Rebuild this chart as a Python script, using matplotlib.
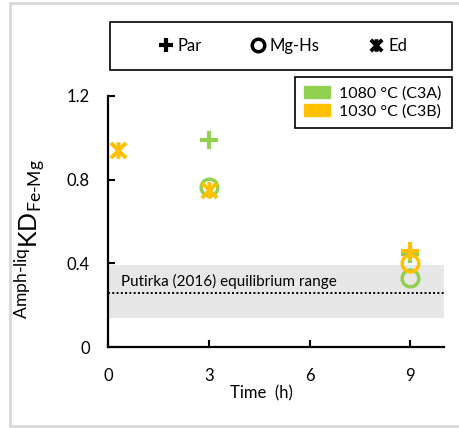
import matplotlib
matplotlib.use("Agg")
import matplotlib.pyplot as plt
from matplotlib.path import Path
from matplotlib.patches import Rectangle, Patch
from matplotlib.lines import Line2D

plt.rcParams['font.family'] = ['Lato', 'DejaVu Sans']
plt.rcParams['mathtext.fontset'] = 'custom'
plt.rcParams['mathtext.rm'] = 'Lato'

# ---- data ----
series_labels = ['1080 °C (C3A)', '1030 °C (C3B)']
colors = ['#92D050', '#FFC000']
par_t = [[3, 9], [9]]
par_kd = [[0.99, 0.445], [0.46]]
mghs_t = [[3, 9], [9]]
mghs_kd = [[0.765, 0.33], [0.40]]
ed_t = [[], [0.3, 3]]
ed_kd = [[], [0.94, 0.75]]
eq_low, eq_high, eq_mid = 0.14, 0.39, 0.26
xticks = [0, 3, 6, 9]
yticks = [0, 0.4, 0.8, 1.2]
ytick_labels = ['0', '0.4', '0.8', '1.2']

star = Path([(-1, -1), (1, 1), (-1, 1), (1, -1), (0, -1.1), (0, 1.1)],
            [Path.MOVETO, Path.LINETO, Path.MOVETO, Path.LINETO, Path.MOVETO, Path.LINETO])

fig = plt.figure(figsize=(4.59, 4.28), dpi=100)
W, H = 459, 428
ax = fig.add_axes([108 / W, 1 - 347 / H, 336 / W, 251 / H])

ax.axhspan(eq_low, eq_high, color='#e7e7e7', zorder=0, lw=0)
ax.axhline(eq_mid, color='black', ls=(0, (1, 1.2)), lw=1.4, zorder=1)
ax.text(0.4, 0.315, 'Putirka (2016) equilibrium range', fontsize=11, va='center', ha='left', zorder=2)

for i in range(2):
    ax.plot(par_t[i], par_kd[i], ls='none', marker='+', ms=13, mew=3,
            color=colors[i], zorder=3 + i)
    ax.plot(mghs_t[i], mghs_kd[i], ls='none', marker='o', ms=12, mew=2.5, mfc='none',
            mec=colors[i], zorder=3 + i)
    if ed_t[i]:
        ax.plot(ed_t[i], ed_kd[i], ls='none', marker=star, ms=12, mew=2.8, mfc='none',
                mec=colors[i], zorder=3 + i)

ax.set_xlim(0, 10)
ax.set_ylim(0, 1.2)
ax.set_xticks(xticks)
ax.set_yticks(yticks)
ax.set_yticklabels(ytick_labels)
ax.tick_params(direction='in', length=5, width=1.5, labelsize=12)
ax.tick_params(axis='x', pad=15)
ax.tick_params(axis='y', pad=13)
for s in ['top', 'right']:
    ax.spines[s].set_visible(False)
for s in ['left', 'bottom']:
    ax.spines[s].set_linewidth(1.6)

ax.set_xlabel('Time  (h)', fontsize=12)
ax.xaxis.set_label_coords(0.458, -0.183)
ax.xaxis.label.set_va('center')
ax.set_ylabel(r'$^{\mathrm{Amph\text{-}liq}}\mathrm{KD}_{\mathrm{Fe\text{-}Mg}}$', fontsize=18)
ax.yaxis.set_label_coords(-0.232, 0.43)
ax.yaxis.label.set_va('center')

# top legend box
fig.patches.append(Rectangle((110 / W, 1 - 70 / H), 342 / W, 48 / H, transform=fig.transFigure,
                             fill=False, ec='black', lw=1.2))
h1 = [Line2D([], [], ls='none', marker='+', ms=10, mew=3, color='black'),
      Line2D([], [], ls='none', marker='o', ms=9, mew=2.5, mfc='none', mec='black'),
      Line2D([], [], ls='none', marker=star, ms=9, mew=2.8, mfc='none', mec='black')]
fig.legend(h1, ['Par', 'Mg-Hs', 'Ed'], loc='center', bbox_to_anchor=(283 / W, 1 - 46 / H),
           ncol=3, frameon=False, fontsize=12, handlelength=0.8, handletextpad=0.3,
           columnspacing=3.0)

# temperature legend box
fig.patches.append(Rectangle((295 / W, 1 - 128 / H), 157 / W, 51 / H, transform=fig.transFigure,
                             fill=False, ec='black', lw=1.2))
h2 = [Patch(color=c) for c in colors]
fig.legend(h2, series_labels, loc='center', bbox_to_anchor=(373 / W, 1 - 102.5 / H),
           frameon=False, fontsize=11.5, handlelength=1.6, handleheight=0.8,
           handletextpad=0.6, labelspacing=0.2)

# light outer frame
for (x0, y0, x1, y1) in [(10, 3, 10, 426), (10, 3, 459, 3), (10, 426, 459, 426)]:
    fig.lines.append(Line2D([x0 / W, x1 / W], [1 - y0 / H, 1 - y1 / H], transform=fig.transFigure,
                            color='#d9d9d9', lw=2))

fig.savefig('out.png', dpi=100)
